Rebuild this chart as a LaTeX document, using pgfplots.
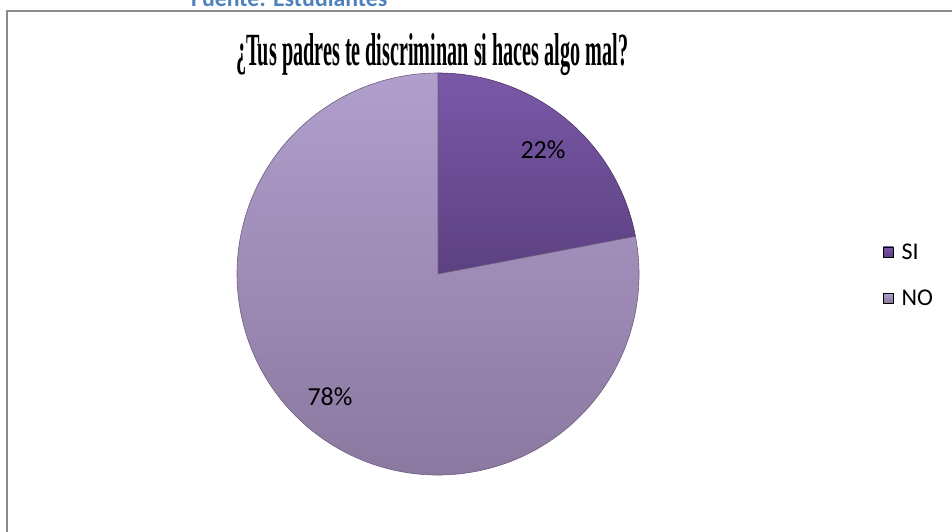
\documentclass[border=0pt]{standalone}
\usepackage{pgfplots}
\usepackage{pgfplotstable}
\usepackage{graphicx}
\usepackage{fontspec}
\pgfplotsset{compat=1.18}
\setmainfont{Carlito}
\newfontfamily\titlefont{Liberation Serif}

\definecolor{sitop}{HTML}{7A58A8}
\definecolor{sibot}{HTML}{5C4181}
\definecolor{notop}{HTML}{B09ECC}
\definecolor{nobot}{HTML}{8A779F}
\definecolor{fuente}{HTML}{4F81BD}
\definecolor{frame}{HTML}{8C8C8C}

% porcentaje de cada respuesta
\pgfplotstableread{
label value
SI 22
NO 78
}\piedata

\begin{document}
\begin{tikzpicture}
\pgfplotstablegetelem{0}{value}\of\piedata \let\vsi\pgfplotsretval
\pgfplotstablegetelem{1}{value}\of\piedata \let\vno\pgfplotsretval
\pgfmathsetmacro\angsi{90-3.6*\vsi}
\pgfmathsetmacro\angno{\angsi-3.6*\vno}
\begin{axis}[
  scale only axis,
  width=952pt, height=531pt,
  xmin=0, xmax=952, ymin=0, ymax=531,
  y dir=reverse,
  hide axis,
  clip=false,
  legend cell align=left,
  legend style={
    at={(axis cs:883,275)}, anchor=west,
    draw=none, fill=none,
    font=\fontsize{24}{26}\selectfont,
    row sep=25pt,
    inner sep=0pt,
    nodes={inner xsep=8pt},
  },
  legend image code/.code={
    \fill[#1] (0pt,-5pt) rectangle (10pt,5pt);
  },
]
  % marco
  \draw[frame, line width=2pt] (axis cs:7,540) -- (axis cs:7,11) -- (axis cs:960,11);

  % porciones
  \shade[top color=sitop, bottom color=sibot, draw=sibot!80!black, line width=0.6pt]
    (axis cs:438,274) -- ++(90:201pt)
    arc[start angle=90, end angle=\angsi, radius=201pt] -- cycle;
  \shade[top color=notop, bottom color=nobot, draw=nobot!80!black, line width=0.6pt]
    (axis cs:438,274) -- ++(\angsi:201pt)
    arc[start angle=\angsi, end angle=\angno, radius=201pt] -- cycle;

  \node[font=\fontsize{26}{28}\selectfont] at (axis cs:543,150) {\vsi\%};
  \node[font=\fontsize{26}{28}\selectfont] at (axis cs:330,397) {\vno\%};

  % titulo y fuente
  \node[anchor=base west, inner sep=0pt] at (axis cs:236,65)
    {\resizebox{392pt}{32pt}{\titlefont\bfseries ¿Tus padres te discriminan si haces algo mal?}};
  \node[anchor=base west, inner sep=0pt, text=fuente, font=\fontsize{23.8}{26}\selectfont\bfseries]
    at (axis cs:191,6) {Fuente: Estudiantes};

  \addlegendimage{top color=sitop, bottom color=sibot, shade}
  \addlegendimage{top color=notop, bottom color=nobot, shade}
  \legend{SI, NO}
\end{axis}
\pgfresetboundingbox
\path (current axis.south west) rectangle (current axis.north east);
\end{tikzpicture}
\end{document}
